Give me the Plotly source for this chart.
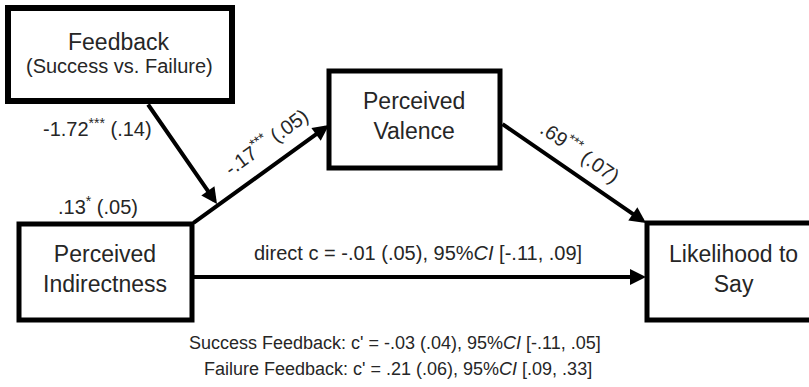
import plotly.graph_objects as go

# ---- data (labels / coefficients) ----
node_titles = ["Feedback", "Perceived<br>Valence", "Perceived<br>Indirectness", "Likelihood to<br>Say"]
feedback_sub = "(Success vs. Failure)"
path_labels = {
    "mod_a": "-1.72<sup>***</sup> (.14)",
    "interaction": ".13<sup>*</sup> (.05)",
    "a": "-.17<sup>***</sup> (.05)",
    "b": ".69<sup>***</sup> (.07)",
    "c": "direct c = -.01 (.05), 95%<i>CI</i> [-.11, .09]",
}
conditional_effects = [
    "Success Feedback: c' = -.03 (.04), 95%<i>CI</i> [-.11, .05]",
    "Failure Feedback: c' = .21 (.06), 95%<i>CI</i> [.09, .33]",
]

W, H = 809, 387
FONT = "Liberation Sans, Arial, sans-serif"
BLACK = "#000000"
TXT = "#262626"

fig = go.Figure()

# boxes (x0, y0, x1, y1) in pixel-like data coords
boxes = {
    "fb": (8, 8, 232, 101),
    "val": (329, 71, 500, 168),
    "ind": (19, 224, 192, 320),
    "lik": (647, 223, 840, 320),
}
for k, (x0, y0, x1, y1) in boxes.items():
    fig.add_shape(type="rect", x0=x0, y0=y0, x1=x1, y1=y1,
                  line=dict(color=BLACK, width=6 if k == "fb" else 5),
                  fillcolor="white", layer="below")

# arrows: (tip_x, tip_y, start_x, start_y)
arrows = [
    (329, 125, 192, 224),   # indirectness -> valence
    (217, 204, 147, 103),   # feedback -> a path
    (646, 223, 501, 123),   # valence -> likelihood
    (646, 277, 192, 277),   # direct path
]
for tx, ty, sx, sy in arrows:
    fig.add_annotation(x=tx, y=ty, ax=sx, ay=sy, xref="x", yref="y",
                       axref="x", ayref="y", showarrow=True, text="",
                       arrowhead=2, arrowsize=0.8, arrowwidth=4,
                       arrowcolor=BLACK, standoff=0, startstandoff=0)

def txt(x, y, s, size, angle=0):
    fig.add_annotation(x=x, y=y, xref="x", yref="y", text=s, showarrow=False,
                       font=dict(family=FONT, size=size, color=TXT),
                       textangle=angle, xanchor="center", yanchor="middle")

# node texts
txt(119, 42, node_titles[0], 23)
txt(119, 66, feedback_sub, 20)
txt(414, 116, node_titles[1], 23)
txt(105, 269, node_titles[2], 23)
txt(733, 269, node_titles[3], 23)

# path labels
txt(97, 127, path_labels["mod_a"], 20)
txt(98, 205, path_labels["interaction"], 20)
txt(265, 140, path_labels["a"], 20, angle=-36)
txt(581, 150, path_labels["b"], 20, angle=35)
txt(418, 253, path_labels["c"], 20)

# conditional effects
txt(395, 343, conditional_effects[0], 18)
txt(398, 369, conditional_effects[1], 18)

fig.update_xaxes(range=[0, W], visible=False, fixedrange=True)
fig.update_yaxes(range=[H, 0], visible=False, fixedrange=True)
fig.update_layout(width=W, height=H, margin=dict(l=0, r=0, t=0, b=0),
                  plot_bgcolor="white", paper_bgcolor="white", showlegend=False)

fig.write_html("out.html", config={"displayModeBar": False},
               post_script="document.body.style.margin='0';document.body.style.overflow='hidden';")
